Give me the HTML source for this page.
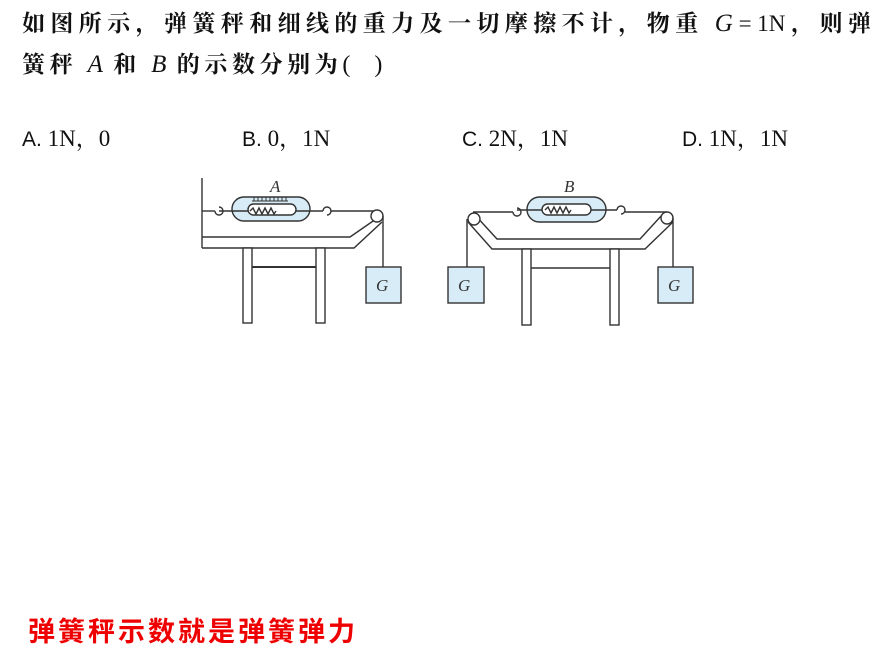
<!DOCTYPE html>
<html><head><meta charset="utf-8"><style>
body{margin:0;width:891px;height:668px;background:#fff;position:relative;overflow:hidden;font-family:"Liberation Serif","Noto Serif CJK SC",serif;}
.t{position:absolute;white-space:nowrap;color:#111;}
.q{font-family:"Noto Serif CJK SC",serif;font-size:23px;font-weight:700;}
i{font-family:"Liberation Serif",serif;font-weight:400;font-size:25px;letter-spacing:0;}
.m{font-weight:400;font-family:'Liberation Serif',serif;letter-spacing:0;}
.o{font-size:23px;font-family:"Liberation Serif","Noto Serif CJK SC",serif;}
.o b{font-family:"Liberation Sans",sans-serif;font-weight:400;font-size:21px;}
</style></head><body>
<div class="t q" style="left:22px;top:5px;letter-spacing:5.4px;">如图所示，弹簧秤和细线的重力及一切摩擦不计，物重 <i>G</i><span class="m"> = 1N </span>，则弹</div>
<div class="t q" style="left:22px;top:46px;letter-spacing:4.6px;">簧秤 <i>A</i> 和 <i>B</i> 的示数分别为<span class="m" style="font-size:24px">( &nbsp; &nbsp;)</span></div>
<div class="t o" style="left:22px;top:120px;"><b>A.</b> 1N，0</div>
<div class="t o" style="left:242px;top:120px;"><b>B.</b> 0，1N</div>
<div class="t o" style="left:462px;top:120px;"><b>C.</b> 2N，1N</div>
<div class="t o" style="left:682px;top:120px;"><b>D.</b> 1N，1N</div>
<div class="t" style="left:28px;top:610px;color:#e00;font-family:'Noto Sans CJK SC',sans-serif;font-weight:700;font-size:27px;letter-spacing:3px;">弹簧秤示数就是弹簧弹力</div>
<svg width="891" height="668" style="position:absolute;left:0;top:0" fill="none" stroke="#333" stroke-width="1.4">
<line x1="202" y1="178" x2="202" y2="248"/>
<path d="M202 237 H350 L376 219 M202 248 H354 L382 222"/>
<rect x="243" y="248" width="9" height="75" fill="#fff"/>
<rect x="316" y="248" width="9" height="75" fill="#fff"/>
<line x1="252" y1="267" x2="316" y2="267" stroke-width="2"/>
<line x1="202" y1="211" x2="215" y2="211"/>
<path d="M215 211 a4 4 0 1 0 4 -4"/>
<rect x="232" y="197" width="78" height="24" rx="12" fill="#d7ecf6"/>
<rect x="248" y="204" width="48" height="11" rx="5.5" fill="#fff"/>
<path d="M250 211 l3 -3 l3 6 l3 -6 l3 6 l3 -6 l3 6 l3 -6 l3 6 l2 -3"/>
<path d="M254 197 v4 M258 197 v4 M262 197 v4 M266 197 v4 M270 197 v4 M274 197 v4 M278 197 v4 M282 197 v4 M286 197 v4" stroke-width="1"/>
<path d="M252 201 H288" stroke-width="1"/>
<line x1="219" y1="211" x2="248" y2="211"/>
<line x1="296" y1="211" x2="323" y2="211"/>
<path d="M323 211 a4 4 0 1 1 4 4"/>
<line x1="331" y1="211" x2="377" y2="211"/>
<circle cx="377" cy="216" r="6" fill="#fff"/>
<line x1="383" y1="216" x2="383" y2="267"/>
<rect x="366" y="267" width="35" height="36" fill="#d7ecf6"/>
<path d="M475 215 L497 239 H640 L662 215 M468 222 L492 249 H645 L673 222"/>
<rect x="522" y="249" width="9" height="76" fill="#fff"/>
<rect x="610" y="249" width="9" height="76" fill="#fff"/>
<line x1="531" y1="268" x2="610" y2="268"/>
<line x1="473" y1="212" x2="513" y2="212"/>
<path d="M513 212 a4 4 0 1 0 4 -4"/>
<rect x="527" y="197" width="79" height="25" rx="12.5" fill="#d7ecf6"/>
<rect x="542" y="204" width="49" height="11" rx="5.5" fill="#fff"/>
<path d="M545 210 l3 -3 l3 6 l3 -6 l3 6 l3 -6 l3 6 l3 -6 l3 6 l2 -3"/>
<line x1="517" y1="210" x2="542" y2="210"/>
<line x1="591" y1="210" x2="617" y2="210"/>
<path d="M617 210 a4 4 0 1 1 4 4"/>
<line x1="625" y1="212" x2="667" y2="212"/>
<circle cx="474" cy="219" r="6" fill="#fff"/>
<circle cx="667" cy="218" r="6" fill="#fff"/>
<line x1="467" y1="219" x2="467" y2="267"/>
<line x1="673" y1="218" x2="673" y2="267"/>
<rect x="448" y="267" width="36" height="36" fill="#d7ecf6"/>
<rect x="658" y="267" width="35" height="36" fill="#d7ecf6"/>
<g font-family="Liberation Serif" font-style="italic" font-size="17" fill="#333" stroke="none">
<text x="270" y="192">A</text><text x="564" y="192">B</text>
<text x="376" y="291">G</text><text x="458" y="291">G</text><text x="668" y="291">G</text>
</g>
</svg>
</body></html>
